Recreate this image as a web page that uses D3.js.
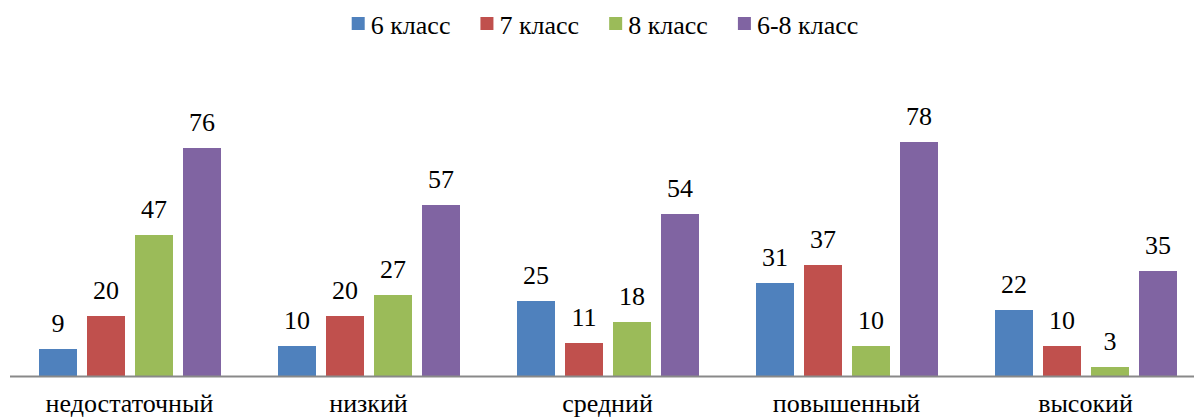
<!DOCTYPE html>
<html><head><meta charset="utf-8">
<script src="https://cdn.jsdelivr.net/npm/d3@7"></script>
</head><body style="margin:0">
<script>
const categories = ["недостаточный","низкий","средний","повышенный","высокий"];
const seriesNames = ["6 класс","7 класс","8 класс","6-8 класс"];
const s6 = [9,10,25,31,22];
const s7 = [20,20,11,37,10];
const s8 = [47,27,18,10,3];
const s68 = [76,57,54,78,35];
const seriesValues = [s6,s7,s8,s68];
const colors = ["#4F81BD","#C0504D","#9BBB59","#8064A2"];
const FONT='"Times New Roman", "Liberation Serif", Tinos';

const W=1194,H=419;
const svg=d3.select("body").append("svg").attr("width",W).attr("height",H)
  .style("display","block").attr("font-family",FONT).style("font-family",FONT);

const x0=d3.scaleBand().domain(categories).range([10,10+239*5]).paddingInner(0).paddingOuter(0);
const x1=d3.scaleBand().domain(seriesNames).range([29,29+182]).paddingInner(10/48).paddingOuter(0);
const y=d3.scaleLinear().domain([0,100]).range([376,76]);

const g=svg.append("g");
categories.forEach((c,i)=>{
  seriesNames.forEach((s,j)=>{
    const v=seriesValues[j][i];
    const bx=x0(c)+x1(s);
    g.append("rect").attr("x",bx).attr("y",y(v)).attr("width",x1.bandwidth()).attr("height",y(0)-y(v)).attr("fill",colors[j]);
    g.append("text").attr("x",bx+x1.bandwidth()/2).attr("y",y(v)-17).attr("text-anchor","middle")
      .style("font-family",FONT).style("font-size","26px").attr("fill","#000").text(v);
  });
});

svg.append("line").attr("x1",10).attr("x2",W).attr("y1",376.5).attr("y2",376.5).attr("stroke","#898989").attr("stroke-width",2);

const xAxis=d3.axisBottom(x0).tickSize(0).tickPadding(0);
const ax=svg.append("g").attr("transform","translate(0,376)").call(xAxis);
ax.attr("font-family",FONT);
ax.select(".domain").remove();
ax.selectAll("text").style("font-family",FONT).style("font-size","26px").attr("fill","#000").attr("dy",null).attr("y",36);

// legend
const lg=svg.append("g");
let cx=0;
seriesNames.forEach((s,j)=>{
  const it=lg.append("g");
  it.append("rect").attr("x",0).attr("y",-17).attr("width",13).attr("height",13).attr("fill",colors[j]);
  const t=it.append("text").attr("x",19).attr("y",0).style("font-family",FONT).style("font-size","26px").attr("fill","#000").text(s);
  const w=19+t.node().getComputedTextLength();
  it.attr("transform",`translate(${cx},34)`);
  cx+=w+30;
});
const total=cx-30;
lg.attr("transform",`translate(${605-total/2},0)`);
</script>
</body></html>
